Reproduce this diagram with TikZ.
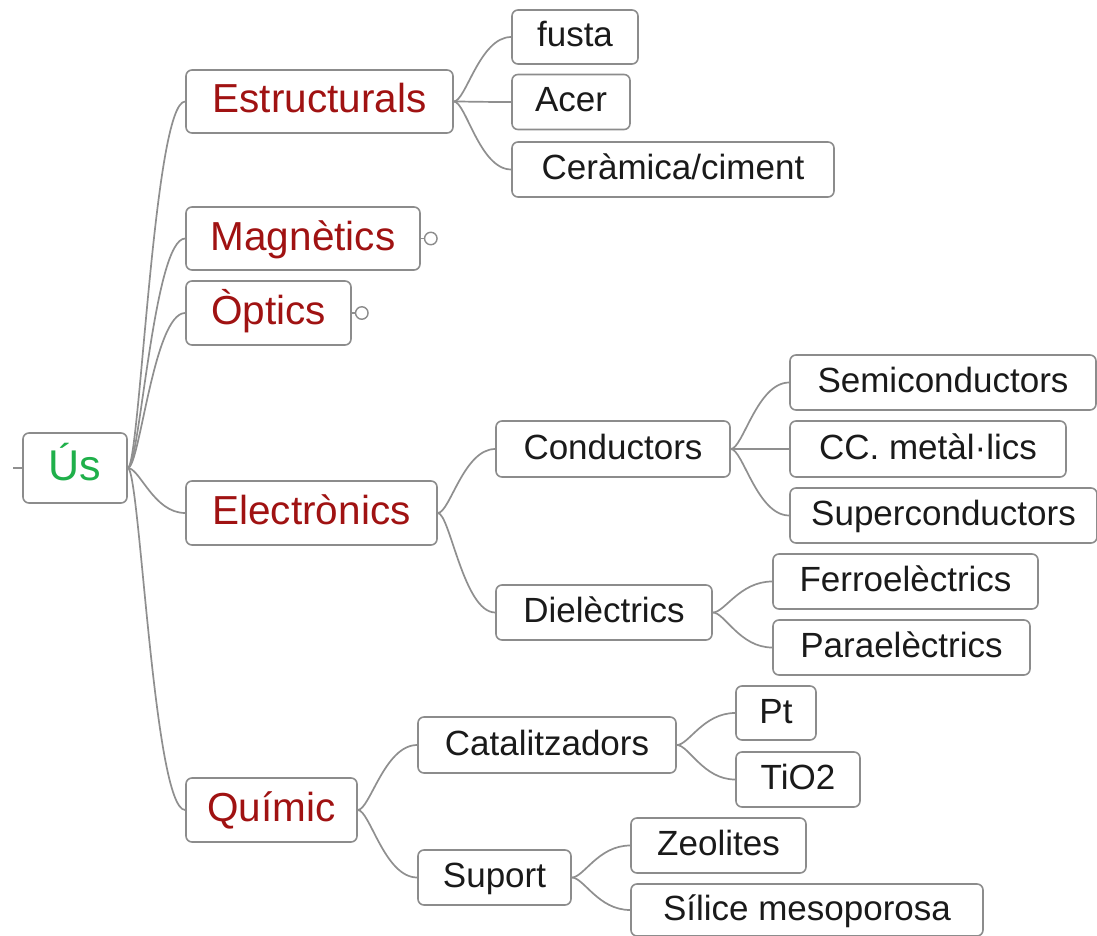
\documentclass[tikz,border=0pt]{standalone}
\usepackage{fontspec}
\setmainfont{Liberation Sans}
\usetikzlibrary{calc}
\definecolor{boxline}{HTML}{8C8C8C}
\definecolor{linkline}{HTML}{8F8F8F}
\definecolor{topic}{HTML}{A01212}
\definecolor{rootgreen}{HTML}{1FB04A}
\definecolor{leaftext}{HTML}{1A1A1A}
\tikzset{
  box/.style={draw=boxline, line width=1.6pt, rounded corners=6pt, fill=white,
    inner sep=0pt, align=center},
  rootbox/.style={box, text=rootgreen, font=\fontsize{43}{48}\selectfont,
    text height=31pt, text depth=6pt},
  mainbox/.style={box, text=topic, font=\fontsize{40.5}{46}\selectfont,
    text height=29pt, text depth=6pt},
  subbox/.style={box, text=leaftext, font=\fontsize{35}{42}\selectfont,
    text height=25pt, text depth=5pt},
  link/.style={draw=linkline, line width=1.7pt},
  knob/.style={circle, draw=boxline, line width=1.4pt, fill=white, minimum size=12.5pt, inner sep=0pt}
}
% curved branch from the east side of a parent to the west side of a child
\newcommand\mmlink[2]{%
  \draw[link] let \p1=(#1.east), \p2=(#2.west) in
    (\p1) .. controls ({\x1+12pt},\y1) and ({\x1+0.45*(\x2-\x1)},\y2) .. (\p2);}
\begin{document}
\begin{tikzpicture}[x=1pt,y=-1pt]
\useasboundingbox (0,0) rectangle (1097,936);

% root
\node[rootbox, minimum width=104pt, minimum height=70pt] (root) at (75,468) {Ús};
\coordinate (stub) at (13,468);

% main topics
\node[mainbox, minimum width=267pt, minimum height=63pt] (estr) at (319.5,101.5) {Estructurals};
\node[mainbox, minimum width=234pt, minimum height=63pt] (magn) at (303,238.5) {Magnètics};
\node[mainbox, minimum width=165pt, minimum height=64pt] (opt)  at (268.5,313) {Òptics};
\node[mainbox, minimum width=251pt, minimum height=64pt] (elec) at (311.5,513) {Electrònics};
\node[mainbox, minimum width=171pt, minimum height=64pt] (quim) at (271.5,810) {Químic};

% collapsed-branch markers
\node[knob] (magnk) at ($(magn.east)+(10,0)$) {};
\node[knob] (optk)  at ($(opt.east)+(10,0)$) {};

% Estructurals
\node[subbox, minimum width=126pt, minimum height=54pt] (fusta) at (575,37) {fusta};
\node[subbox, minimum width=118pt, minimum height=55pt] (acer)  at (571,102) {Acer};
\node[subbox, minimum width=322pt, minimum height=55pt] (ceram) at (673,169.5) {Ceràmica/ciment};

% Electrònics
\node[subbox, minimum width=234pt, minimum height=56pt] (cond) at (613,449) {Conductors};
\node[subbox, minimum width=216pt, minimum height=55pt] (diel) at (604,612.5) {Dielèctrics};
\node[subbox, minimum width=306pt, minimum height=55pt] (semi) at (943,382.5) {Semiconductors};
\node[subbox, minimum width=276pt, minimum height=56pt] (ccm)  at (928,449) {CC. metàl·lics};
\node[subbox, minimum width=307pt, minimum height=55pt] (sup)  at (943.5,515.5) {Superconductors};
\node[subbox, minimum width=265pt, minimum height=55pt] (ferro) at (905.5,581.5) {Ferroelèctrics};
\node[subbox, minimum width=257pt, minimum height=55pt] (para)  at (901.5,647.5) {Paraelèctrics};

% Químic
\node[subbox, minimum width=258pt, minimum height=56pt] (cat) at (547,745) {Catalitzadors};
\node[subbox, minimum width=153pt, minimum height=55pt] (suport) at (494.5,877.5) {Suport};
\node[subbox, minimum width=80pt,  minimum height=54pt] (pt)  at (776,713) {Pt};
\node[subbox, minimum width=124pt, minimum height=55pt] (tio) at (798,779.5) {TiO2};
\node[subbox, minimum width=175pt, minimum height=55pt] (zeo) at (718.5,845.5) {Zeolites};
\node[subbox, minimum width=352pt, minimum height=52pt] (sil) at (807,910) {Sílice mesoporosa};

% branches
\draw[link] (stub) -- (root.west);
\draw[link] (magn.east) -- (magnk.west);
\draw[link] (opt.east) -- (optk.west);
\mmlink{root}{estr}
\mmlink{root}{magn}
\mmlink{root}{opt}
\mmlink{root}{elec}
\mmlink{root}{quim}
\mmlink{estr}{fusta}
\mmlink{estr}{acer}
\mmlink{estr}{ceram}
\mmlink{elec}{cond}
\mmlink{elec}{diel}
\mmlink{cond}{semi}
\mmlink{cond}{ccm}
\mmlink{cond}{sup}
\mmlink{diel}{ferro}
\mmlink{diel}{para}
\mmlink{quim}{cat}
\mmlink{quim}{suport}
\mmlink{cat}{pt}
\mmlink{cat}{tio}
\mmlink{suport}{zeo}
\mmlink{suport}{sil}
\end{tikzpicture}
\end{document}
